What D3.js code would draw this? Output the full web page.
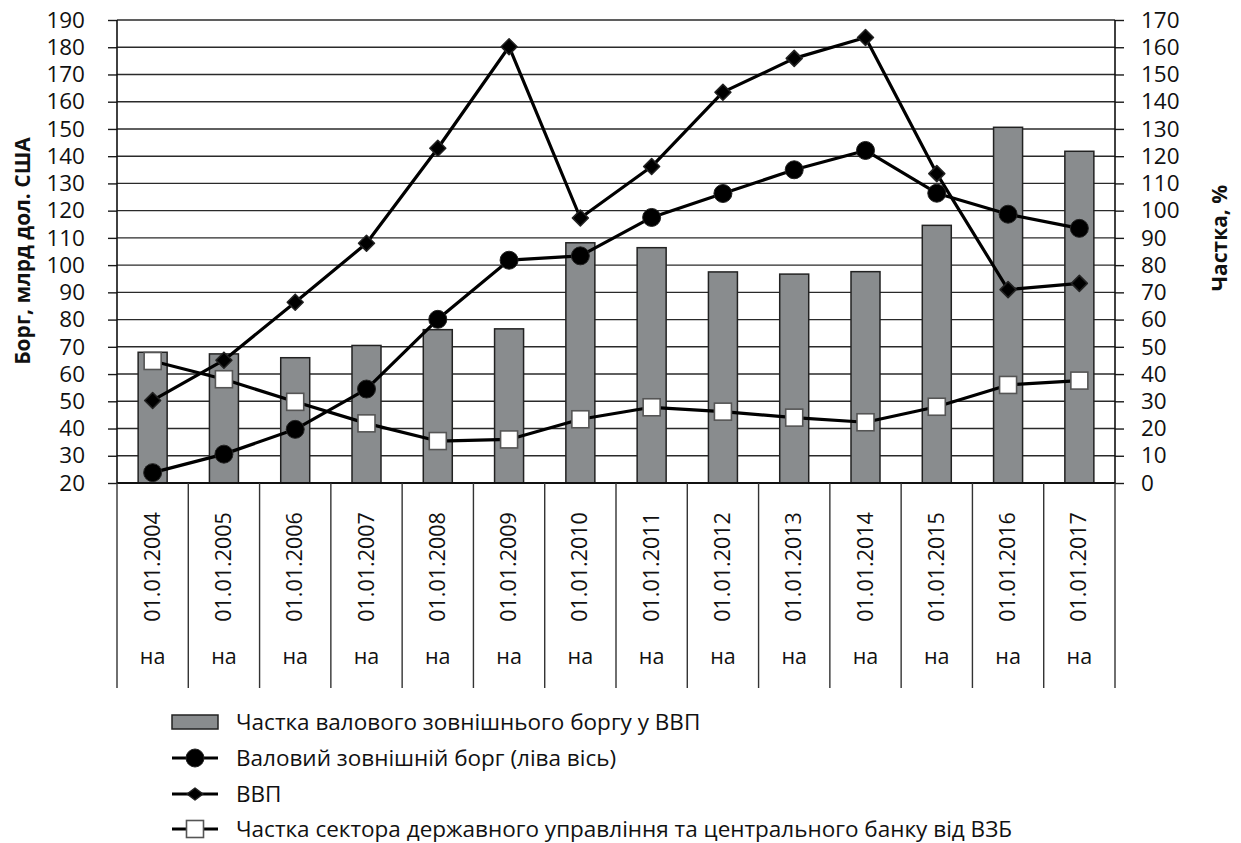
<!DOCTYPE html>
<meta charset="utf-8">
<script src="https://d3js.org/d3.v7.min.js"></script>
<style>
    body { margin: 0; background: #fff; font-family: 'Open Sans', 'Noto Sans', sans-serif; }
</style>
<div id="chart"></div>
<script>
    // data
    var categories = ["01.01.2004", "01.01.2005", "01.01.2006", "01.01.2007", "01.01.2008",
        "01.01.2009", "01.01.2010", "01.01.2011", "01.01.2012", "01.01.2013",
        "01.01.2014", "01.01.2015", "01.01.2016", "01.01.2017"];
    // share of gross external debt in GDP, % (right axis) - bars
    var debtShare = [48.0, 47.4, 46.0, 50.5, 56.3, 56.6, 88.2, 86.4, 77.5, 76.7, 77.6, 94.6, 130.6, 121.8];
    // gross external debt, bn USD (left axis)
    var grossDebt = [23.8, 30.6, 39.7, 54.5, 80.1, 101.8, 103.4, 117.5, 126.3, 135.0, 142.1, 126.4, 118.7, 113.5];
    // GDP, bn USD (left axis)
    var gdp = [50.3, 65.1, 86.4, 108.0, 142.9, 180.2, 117.3, 136.2, 163.5, 175.9, 183.6, 133.6, 91.0, 93.3];
    // share of general government & central bank in gross external debt, % (right axis)
    var govShare = [44.8, 38.1, 29.8, 21.9, 15.4, 16.0, 23.4, 27.8, 26.2, 24.0, 22.3, 28.0, 36.0, 37.6];

    var leftTicks = d3.range(20, 191, 10);
    var rightTicks = d3.range(0, 171, 10);

    var legendLabels = ["Частка валового зовнішнього боргу у ВВП",
        "Валовий зовнішній борг (ліва вісь)",
        "ВВП",
        "Частка сектора державного управління та центрального банку від ВЗБ"];

    var W = 1241, H = 843;
    var margin = {top: 20, left: 117, right: 126, bottom: 360};
    var x0 = margin.left, x1 = W - margin.right, yTop = margin.top, yBot = H - margin.bottom;

    var svg = d3.select("#chart").append("svg")
        .attr("width", W).attr("height", H);

    var x = d3.scaleBand().domain(categories).range([x0, x1]);
    var yL = d3.scaleLinear().domain([20, 190]).range([yBot, yTop]);
    var yR = d3.scaleLinear().domain([0, 170]).range([yBot, yTop]);

    // horizontal gridlines
    svg.append("g").selectAll("line").data(leftTicks).enter().append("line")
        .attr("x1", x0).attr("x2", x1)
        .attr("y1", function(d) { return yL(d); }).attr("y2", function(d) { return yL(d); })
        .attr("stroke", "#2a2a2a").attr("stroke-width", 1.4);

    // left axis
    var axL = svg.append("g").attr("transform", "translate(" + x0 + ",0)")
        .call(d3.axisLeft(yL).tickValues(leftTicks).tickSize(9).tickPadding(23));
    // right axis
    var axR = svg.append("g").attr("transform", "translate(" + x1 + ",0)")
        .call(d3.axisRight(yR).tickValues(rightTicks).tickSize(9).tickPadding(17));
    [axL, axR].forEach(function(a) {
        a.select(".domain").remove();
        a.selectAll("line").attr("stroke", "#1a1a1a").attr("stroke-width", 1.4);
        a.selectAll("text").style("font-size", "22.5px").style("font-family", "'Open Sans', sans-serif")
            .attr("fill", "#111");
    });
    svg.append("line").attr("x1", x0).attr("x2", x0).attr("y1", yTop).attr("y2", yBot)
        .attr("stroke", "#111").attr("stroke-width", 1.6);
    svg.append("line").attr("x1", x1).attr("x2", x1).attr("y1", yTop).attr("y2", yBot)
        .attr("stroke", "#111").attr("stroke-width", 1.6);

    // bars
    var bw = 29;
    svg.append("g").selectAll("rect").data(debtShare).enter().append("rect")
        .attr("x", function(d, i) { return x(categories[i]) + x.bandwidth() / 2 - bw / 2; })
        .attr("y", function(d) { return yR(d); })
        .attr("width", bw)
        .attr("height", function(d) { return yBot - yR(d); })
        .attr("fill", "#898c8e").attr("stroke", "#222").attr("stroke-width", 1.5);

    // bottom axis line and category separators
    svg.append("line").attr("x1", x0).attr("x2", x1).attr("y1", yBot).attr("y2", yBot)
        .attr("stroke", "#111").attr("stroke-width", 2);
    var seps = categories.map(function(c) { return x(c); }).concat([x1]);
    svg.append("g").selectAll("line").data(seps).enter().append("line")
        .attr("x1", function(d) { return d; }).attr("x2", function(d) { return d; })
        .attr("y1", yBot).attr("y2", 688)
        .attr("stroke", "#333").attr("stroke-width", 1.4);

    // category labels
    var cx = function(c) { return x(c) + x.bandwidth() / 2; };
    svg.append("g").selectAll("text").data(categories).enter().append("text")
        .attr("transform", function(d) { return "translate(" + (cx(d) + 7) + ",567) rotate(-90)"; })
        .attr("text-anchor", "middle")
        .style("font-size", "21.5px").attr("fill", "#111")
        .text(function(d) { return d; });
    svg.append("g").selectAll("text").data(categories).enter().append("text")
        .attr("x", function(d) { return cx(d); }).attr("y", 664)
        .attr("text-anchor", "middle")
        .style("font-size", "21.5px").attr("fill", "#111")
        .text("на");

    // lines
    function drawSeries(vals, yScale, marker) {
        var line = d3.line()
            .x(function(d, i) { return cx(categories[i]); })
            .y(function(d) { return yScale(d); });
        svg.append("path").datum(vals).attr("d", line)
            .attr("fill", "none").attr("stroke", "#000").attr("stroke-width", 3.2)
            .attr("stroke-linejoin", "round");
        var g = svg.append("g");
        vals.forEach(function(v, i) {
            addMarker(g, marker, cx(categories[i]), yScale(v), 8, 8);
        });
    }

    function addMarker(g, marker, px, py, hw, hh) {
        if (marker === "circle") {
            g.append("circle").attr("cx", px).attr("cy", py).attr("r", 9)
                .attr("fill", "#000").attr("stroke", "#222").attr("stroke-width", 1);
        } else if (marker === "diamond") {
            g.append("path")
                .attr("d", "M" + px + "," + (py - hh) + "L" + (px + hw) + "," + py +
                    "L" + px + "," + (py + hh) + "L" + (px - hw) + "," + py + "Z")
                .attr("fill", "#000").attr("stroke", "#222").attr("stroke-width", 1.5)
                .attr("stroke-linejoin", "round");
        } else {
            g.append("rect").attr("x", px - 8.5).attr("y", py - 8.5).attr("width", 17).attr("height", 17)
                .attr("fill", "#fff").attr("stroke", "#555").attr("stroke-width", 1.6);
        }
    }

    drawSeries(govShare, yR, "square");
    drawSeries(gdp, yL, "diamond");
    drawSeries(grossDebt, yL, "circle");

    // axis titles
    svg.append("text")
        .attr("transform", "translate(30,251) rotate(-90)")
        .attr("text-anchor", "middle")
        .style("font-size", "21px").style("font-weight", "bold").attr("fill", "#111")
        .text("Борг, млрд дол. США");
    svg.append("text")
        .attr("transform", "translate(1227,238) rotate(-90)")
        .attr("text-anchor", "middle")
        .style("font-size", "21px").style("font-weight", "bold").attr("fill", "#111")
        .text("Частка, %");

    // legend
    var legY = [722, 758, 794, 829];
    var legMarkers = ["bar", "circle", "diamond", "square"];
    var leg = svg.append("g");
    legendLabels.forEach(function(lbl, i) {
        var yy = legY[i];
        if (legMarkers[i] === "bar") {
            leg.append("rect").attr("x", 172).attr("y", yy - 7).attr("width", 46).attr("height", 14)
                .attr("fill", "#898c8e").attr("stroke", "#222").attr("stroke-width", 1.5);
        } else {
            leg.append("line").attr("x1", 172).attr("x2", 218).attr("y1", yy).attr("y2", yy)
                .attr("stroke", "#000").attr("stroke-width", 3.2);
            addMarker(leg, legMarkers[i], 195, yy, 8, 6);
        }
        leg.append("text").attr("x", 236).attr("y", yy + 8)
            .style("font-size", "22.5px").attr("fill", "#111")
            .text(lbl);
    });
</script>
